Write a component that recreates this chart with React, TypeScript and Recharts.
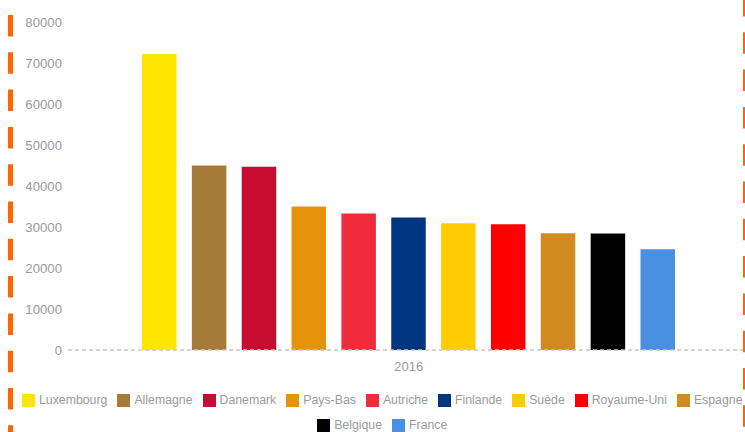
import React from 'react';
import { BarChart, Bar, XAxis, YAxis, Legend } from 'recharts';

const categories = ['2016'];
const countries = [
  'Luxembourg',
  'Allemagne',
  'Danemark',
  'Pays-Bas',
  'Autriche',
  'Finlande',
  'Suède',
  'Royaume-Uni',
  'Espagne',
  'Belgique',
  'France',
];
const values = [72200, 45000, 44700, 35000, 33300, 32300, 30900, 30700, 28500, 28400, 24600];
const colors = [
  '#FFE600',
  '#A67A37',
  '#C60C30',
  '#E69309',
  '#EF2B3C',
  '#003580',
  '#FECC00',
  '#FF0000',
  '#D18B1F',
  '#000000',
  '#4A90E2',
];
const yTicks = [0, 10000, 20000, 30000, 40000, 50000, 60000, 70000, 80000];

const data = categories.map((c) => {
  const row: Record<string, string | number> = { year: c };
  countries.forEach((k, i) => {
    row[k] = values[i];
  });
  return row;
});

const FONT = '"Liberation Sans", Arial, Helvetica, sans-serif';
const GRAY = '#9a9a9a';

export default function App() {
  return (
    <div
      style={{
        position: 'fixed',
        left: 0,
        top: 0,
        width: 745,
        height: 432,
        overflow: 'hidden',
        background: '#fff',
        fontFamily: FONT,
      }}
    >
      <BarChart
        width={760}
        height={432}
        data={data}
        margin={{ top: 22, right: 10.6, bottom: 2, left: 0 }}
        barSize={34.5}
        barGap={15.35}
        style={{ fontFamily: FONT }}
      >
        <XAxis
          dataKey="year"
          height={30}
          tickSize={0}
          tickMargin={12}
          tick={{ fill: GRAY, fontSize: 13, fontFamily: FONT }}
          axisLine={{ stroke: '#c8c8c8', strokeWidth: 1.6, strokeDasharray: '4 3' }}
          tickLine={false}
        />
        <YAxis
          width={68}
          domain={[0, 80000]}
          ticks={yTicks}
          interval={0}
          tickSize={0}
          tickMargin={6}
          axisLine={false}
          tickLine={false}
          tick={{ fill: GRAY, fontSize: 13.2, fontFamily: FONT }}
        />
        <Legend
          iconType="square"
          iconSize={13}
          itemSorter={(item: any) => countries.indexOf(item.value)}
          wrapperStyle={{
            top: 387.5,
            left: 12.25,
            width: 750,
            lineHeight: '25px',
            fontSize: 12.3,
            fontFamily: FONT,
          }}
          formatter={(value) => <span style={{ color: GRAY }}>{value}</span>}
        />
        {countries.map((k, i) => (
          <Bar key={k} dataKey={k} name={k} fill={colors[i]} isAnimationActive={false} />
        ))}
      </BarChart>
      <svg
        width={745}
        height={432}
        style={{ position: 'absolute', left: 0, top: 0, pointerEvents: 'none' }}
      >
        <line x1={10.5} y1={15} x2={10.5} y2={440} stroke="#FF6600" strokeWidth={5} strokeDasharray="21.5 15.8" />
        <line x1={745.5} y1={-5} x2={745.5} y2={440} stroke="#FF6600" strokeWidth={5} strokeDasharray="21.5 15.8" />
      </svg>
    </div>
  );
}
